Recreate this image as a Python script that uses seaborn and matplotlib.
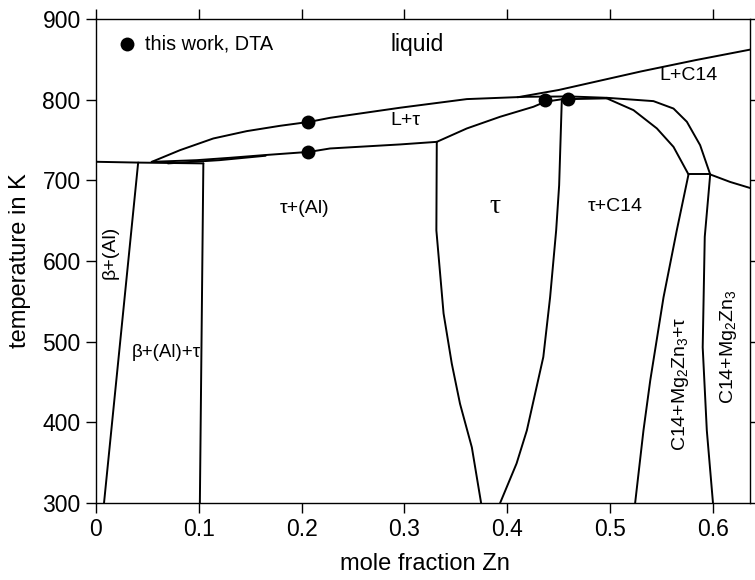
import matplotlib
matplotlib.use("Agg")
import matplotlib.pyplot as plt
import seaborn as sns
import numpy as np

# ---------------- data ----------------
# horizontal line at left (beta+(Al) top / invariant)
inv_left_x = [0.0, 0.041, 0.1044]
inv_left_T = [723.0, 722.0, 721.0]

# beta+(Al) | beta+(Al)+tau boundary
beta_x = [0.041, 0.0078]
beta_T = [722.0, 300.0]

# beta+(Al)+tau | tau+(Al) boundary
al_x = [0.1044, 0.101]
al_T = [721.0, 300.0]

# liquidus L | L+tau
liq_tau_x = [0.0542, 0.0817, 0.1141, 0.1466, 0.179, 0.2075, 0.2276, 0.2957, 0.3606, 0.419, 0.46, 0.4968]
liq_tau_T = [722.9, 737.4, 751.9, 761.0, 767.6, 772.5, 777.5, 790.0, 800.7, 803.6, 804.0, 802.3]

# solidus L+tau | tau+(Al)
sol_tau_x = [0.0542, 0.098, 0.130, 0.163, 0.2075, 0.2276, 0.2957, 0.3314]
sol_tau_T = [722.9, 725.0, 727.9, 731.2, 735.3, 739.5, 744.5, 747.7]

# thin wedge line near the eutectic
wedge_x = [0.07, 0.12, 0.165]
wedge_T = [721.0, 725.0, 730.5]

# tau upper boundary (L+tau | tau)
tau_top_x = [0.3314, 0.3606, 0.393, 0.4254, 0.4368, 0.453, 0.4968]
tau_top_T = [747.7, 764.3, 778.8, 791.2, 797.4, 800.5, 801.6]

# tau left boundary
tau_left_x = [0.3314, 0.331, 0.338, 0.346, 0.354, 0.3655, 0.3745]
tau_left_T = [747.7, 638.0, 535.0, 472.7, 423.0, 369.0, 300.0]

# tau right boundary
tau_right_x = [0.453, 0.4504, 0.4475, 0.4416, 0.435, 0.419, 0.409, 0.393]
tau_right_T = [800.5, 694.0, 638.0, 555.0, 481.0, 390.0, 349.0, 300.0]

# L | L+C14 liquidus
liq_c14_x = [0.41, 0.45, 0.53, 0.583, 0.64]
liq_c14_T = [803.0, 812.0, 835.0, 849.0, 863.0]

# tau+C14 | C14 inner curve
c14_in_x = [0.4968, 0.5227, 0.5454, 0.5616, 0.5762]
c14_in_T = [801.6, 787.0, 764.4, 741.5, 707.3]

# L+C14 | C14 outer curve
c14_out_x = [0.4968, 0.5421, 0.5616, 0.5746, 0.5875, 0.5973]
c14_out_T = [802.3, 798.2, 789.0, 772.6, 743.6, 707.3]

# invariant at right
inv_right_x = [0.5762, 0.5973]
inv_right_T = [707.3, 707.3]

# line leaving to the right edge
right_x = [0.5973, 0.6167, 0.64]
right_T = [707.3, 698.0, 689.0]

# C14+Mg2Zn3+tau left boundary
mg_left_x = [0.5762, 0.5648, 0.5519, 0.539, 0.5324, 0.5243]
mg_left_T = [707.3, 638.0, 555.0, 452.0, 390.0, 300.0]

# C14 | C14+Mg2Zn3 boundary
mg_right_x = [0.5973, 0.592, 0.590, 0.594, 0.600]
mg_right_T = [707.3, 630.0, 493.0, 390.0, 300.0]

# DTA points (this work)
dta_x = [0.2065, 0.2065, 0.4368, 0.4588]
dta_T = [772.5, 735.3, 799.5, 800.7]

x_ticks = [0, 0.1, 0.2, 0.3, 0.4, 0.5, 0.6]
x_tick_labels = ["0", "0.1", "0.2", "0.3", "0.4", "0.5", "0.6"]
y_ticks = [300, 400, 500, 600, 700, 800, 900]

curves = [
    (inv_left_x, inv_left_T), (beta_x, beta_T), (al_x, al_T),
    (liq_tau_x, liq_tau_T), (sol_tau_x, sol_tau_T), (wedge_x, wedge_T),
    (tau_top_x, tau_top_T), (tau_left_x, tau_left_T), (tau_right_x, tau_right_T),
    (liq_c14_x, liq_c14_T), (c14_in_x, c14_in_T), (c14_out_x, c14_out_T),
    (inv_right_x, inv_right_T), (right_x, right_T),
    (mg_left_x, mg_left_T), (mg_right_x, mg_right_T),
]

# ---------------- styling ----------------
sns.set_theme(style="ticks")
plt.rcParams["font.family"] = ["Liberation Sans", "DejaVu Sans"]
plt.rcParams["mathtext.fontset"] = "custom"
plt.rcParams["mathtext.rm"] = "Liberation Sans"
plt.rcParams["mathtext.it"] = "Liberation Sans:italic"
plt.rcParams["mathtext.default"] = "regular"

W, H = 755, 580
fig = plt.figure(figsize=(W / 100, H / 100), dpi=100)
L, R, T, B = 96, 750, 19, 503
ax = fig.add_axes([L / W, 1 - B / H, (R - L) / W, (B - T) / H])

for cx, cy in curves:
    sns.lineplot(x=cx, y=cy, ax=ax, color="black", lw=1.4, sort=False,
                 estimator=None, legend=False)

sns.scatterplot(x=dta_x, y=dta_T, ax=ax, color="black", s=100,
                edgecolor="black", linewidth=0, label="this work, DTA", zorder=5)

ax.set_xlim(0, 0.636)
ax.set_ylim(300, 900)
ax.set_xticks(x_ticks)
ax.set_xticklabels(x_tick_labels)
ax.set_yticks(y_ticks)
ax.tick_params(axis="both", which="major", direction="out", length=7, width=1,
               labelsize=16.5, color="black", labelcolor="black",
               top=True, right=True, pad=4)
for sp in ax.spines.values():
    sp.set_visible(True)
    sp.set_color("black")
    sp.set_linewidth(1.0)

ax.set_xlabel("mole fraction Zn", fontsize=17, color="black")
ax.set_ylabel("temperature in K", fontsize=17, color="black")
ax.xaxis.set_label_coords(0.503, -0.103)
ax.yaxis.set_label_coords(-0.10, 0.5)

leg = ax.legend(loc="upper left", bbox_to_anchor=(0.0206, 0.985), frameon=False,
                fontsize=14.3, handlelength=1.0, handletextpad=0.4,
                borderaxespad=0.0, markerscale=1.0, labelcolor="black")

fam = ["Liberation Sans", "DejaVu Sans"]
txt = dict(ha="center", va="center", color="black", family=fam)
ax.text(0.312, 868, "liquid", fontsize=16.5, **txt)
ax.text(0.5765, 830.5, "L+C14", fontsize=14, **txt)
ax.text(0.3006, 774, "L+τ", fontsize=14, **txt)
ax.text(0.2025, 665, "τ+(Al)", fontsize=14, **txt)
ax.text(0.388, 667, "τ", fontsize=20, ha="center", va="center", color="black",
        family=["Liberation Serif", "DejaVu Serif"])
ax.text(0.505, 667, "τ+C14", fontsize=14, **txt)
ax.text(0.0136, 611, "β+(Al)", fontsize=14, rotation=90, **txt)
ax.text(0.0684, 487, "β+(Al)+τ", fontsize=13.5, **txt)
ax.text(0.568, 448, "C14+Mg$_2$Zn$_3$+τ", fontsize=14, rotation=90, **txt)
ax.text(0.615, 494, "C14+Mg$_2$Zn$_3$", fontsize=14, rotation=90, **txt)

fig.savefig("out.png", dpi=100)
